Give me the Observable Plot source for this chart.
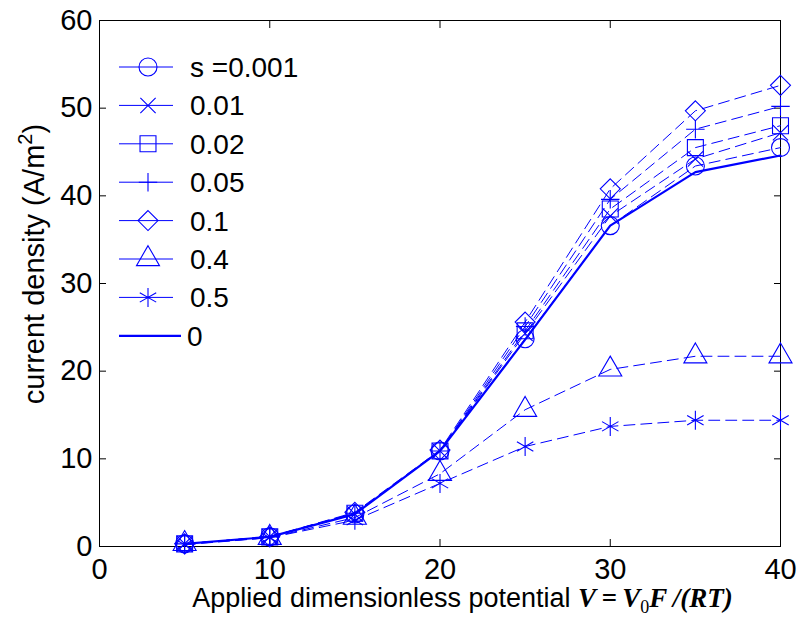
<!DOCTYPE html>
<html>
<head>
<meta charset="utf-8">
<script src="https://cdn.jsdelivr.net/npm/d3@7"></script>
<script src="https://cdn.jsdelivr.net/npm/@observablehq/plot@0.6"></script>
<style>
  body { margin: 0; background: #fff; }
  #chart { width: 798px; height: 623px; }
</style>
</head>
<body>
<div id="chart"></div>
<script>
// ---- data ----
const potential = [5, 10, 15, 20, 25, 30, 35, 40];
const s0001 = [0.3, 1.1, 3.7, 10.9, 23.7, 36.6, 43.4, 45.5];
const s001  = [0.3, 1.1, 3.7, 10.9, 24.3, 37.7, 44.2, 47.2];
const s002  = [0.3, 1.1, 3.8, 10.9, 24.6, 38.5, 45.5, 48.0];
const s005  = [0.3, 1.1, 3.8, 10.9, 25.1, 39.6, 47.6, 50.2];
const s01   = [0.3, 1.1, 3.9, 11.0, 25.6, 40.8, 49.7, 52.6];
const s04   = [0.3, 1.0, 3.3, 8.3, 15.6, 20.2, 21.7, 21.7];
const s05   = [0.2, 1.0, 3.0, 7.2, 11.4, 13.7, 14.4, 14.4];
const s0    = [0.3, 1.1, 3.7, 10.9, 23.6, 36.6, 42.7, 44.6];

const seriesLabels = ["s =0.001", "0.01", "0.02", "0.05", "0.1", "0.4", "0.5", "0"];
const seriesValues = [s0001, s001, s002, s005, s01, s04, s05, s0];
const xTicks = [0, 10, 20, 30, 40];
const yTicks = [0, 10, 20, 30, 40, 50, 60];

// ---- styles ----
const BLUE = "#0000ff";
const symbols = ["circle", "times", "square", "plus", "diamond2", "triangle2", "asterisk", null];
const symR    = [9, 7, 9, 6, 9, 11, 9, 0];
const FONT = "'Liberation Sans', Arial, Helvetica, sans-serif";

const tables = seriesValues.map((vals, i) =>
  vals.map((v, j) => ({x: potential[j], y: v, s: seriesLabels[i]})));

const marks = [];
tables.forEach((rows, i) => {
  const isZero = symbols[i] === null;
  marks.push(Plot.line(rows, {
    x: "x", y: "y", stroke: BLUE,
    strokeWidth: isZero ? 2.2 : 1,
    strokeDasharray: isZero ? null : "11,6"
  }));
  if (!isZero) {
    marks.push(Plot.dot(rows, {
      x: "x", y: "y", symbol: symbols[i], r: symR[i],
      stroke: BLUE, fill: "none", strokeWidth: 1.1
    }));
  }
});

const plot = Plot.plot({
  width: 798, height: 623,
  marginLeft: 99, marginRight: 18, marginTop: 20, marginBottom: 77,
  style: {fontFamily: FONT, fontSize: "29px", background: "white", color: "black", overflow: "visible"},
  x: {domain: [0, 40], label: null},
  y: {domain: [0, 60], label: null},
  marks: [
    Plot.frame({stroke: "black", strokeWidth: 1}),
    Plot.axisX(xTicks, {anchor: "bottom", tickSize: -7, tickPadding: 19, label: null, fontSize: 29}),
    Plot.axisX(xTicks, {anchor: "top", tickSize: -7, tickFormat: () => "", label: null}),
    Plot.axisY(yTicks, {anchor: "left", tickSize: -7, tickPadding: 14, label: null, fontSize: 29}),
    Plot.axisY(yTicks, {anchor: "right", tickSize: -7, tickFormat: () => "", label: null}),
    ...marks
  ]
});

document.getElementById("chart").appendChild(plot);

// ---- axis labels & legend drawn into the same svg ----
const svg = d3.select(plot);
const xs = plot.scale("x"), ys = plot.scale("y");
const xMid = (xs.range[0] + xs.range[1]) / 2;
const yMid = (ys.range[0] + ys.range[1]) / 2;

// x label
const xl = svg.append("text")
  .attr("x", xMid + 23).attr("y", 607)
  .attr("text-anchor", "middle")
  .attr("font-family", FONT).attr("font-size", 27).attr("fill", "black");
xl.append("tspan").text("Applied dimensionless potential ");
const serif = "'Liberation Serif', 'Times New Roman', serif";
xl.append("tspan").attr("font-family", serif).attr("font-style", "italic").attr("font-weight", "bold").attr("font-size", 27).text("V\u2009=\u2009V");
xl.append("tspan").attr("font-family", serif).attr("font-size", 18).attr("dy", 6).text("0");
xl.append("tspan").attr("font-family", serif).attr("font-style", "italic").attr("font-weight", "bold").attr("font-size", 27).attr("dy", -6).text("F\u2009/(RT)");

// y label
const yl = svg.append("text")
  .attr("transform", `translate(44,${yMid - 19}) rotate(-90)`)
  .attr("text-anchor", "middle")
  .attr("font-family", FONT).attr("font-size", 29).attr("fill", "black");
yl.append("tspan").text("current density (A/m");
yl.append("tspan").attr("font-size", 20).attr("dy", -12).text("2");
yl.append("tspan").attr("dy", 12).text(")");

// legend
const leg = svg.append("g").attr("text-anchor", "start");
const rowY0 = 67, rowDY = 38.4;
const symMap = {circle: d3.symbolCircle, times: d3.symbolTimes, square: d3.symbolSquare,
  plus: d3.symbolPlus, diamond2: d3.symbolDiamond2, triangle2: d3.symbolTriangle2, asterisk: d3.symbolAsterisk};
seriesLabels.forEach((lab, i) => {
  const y = rowY0 + i * rowDY;
  const isZero = symbols[i] === null;
  leg.append("line")
    .attr("x1", 119).attr("x2", isZero ? 181 : 173).attr("y1", y).attr("y2", y)
    .attr("stroke", BLUE).attr("stroke-width", isZero ? 2.2 : 1);
  if (!isZero) {
    leg.append("path")
      .attr("transform", `translate(148,${y})`)
      .attr("d", d3.symbol(symMap[symbols[i]], Math.PI * symR[i] * symR[i])())
      .attr("fill", "none").attr("stroke", BLUE).attr("stroke-width", 1.1);
  }
  leg.append("text")
    .attr("x", isZero ? 187 : 190).attr("y", y + 10)
    .attr("text-anchor", "start")
    .attr("font-family", FONT).attr("font-size", 28).attr("fill", "black")
    .text(lab);
});
</script>
</body>
</html>
